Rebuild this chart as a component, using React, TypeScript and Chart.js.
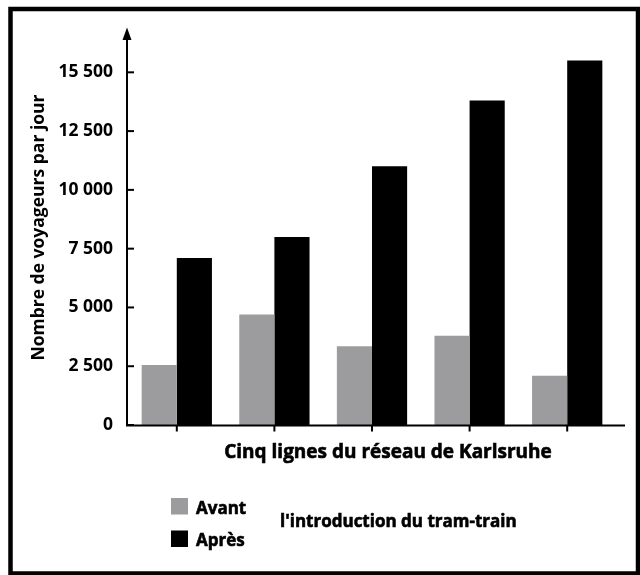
import React, { useEffect, useRef } from "react";
import { Chart, registerables } from "chart.js";

Chart.register(...registerables);

const categories = ["Ligne 1", "Ligne 2", "Ligne 3", "Ligne 4", "Ligne 5"];
const seriesNames = ["Avant", "Après"];
const avant = [2550, 4700, 3350, 3800, 2100];
const apres = [7100, 8000, 11000, 13800, 15500];
const tickValues = [0, 2500, 5000, 7500, 10000, 12500, 15000];
const tickLabels = ["0", "2 500", "5 000", "7 500", "10 000", "12 500", "15 500"];
const yTitle = "Nombre de voyageurs par jour";
const xTitle = "Cinq lignes du réseau de Karlsruhe";
const legendTitle = "l'introduction du tram-train";

const GRAY = "#9c9c9e";
const BLACK = "#000000";
const FAMILY = "'Open Sans', 'DejaVu Sans', sans-serif";

function heavyText(ctx: any, text: string, x: number, y: number) {
  ctx.fillText(text, x, y);
  ctx.lineWidth = 0.6;
  ctx.strokeStyle = BLACK;
  ctx.strokeText(text, x, y);
}

const decorPlugin = {
  id: "decor",
  beforeDraw(chart: any) {
    const ctx = chart.ctx;
    ctx.save();
    ctx.fillStyle = "#ffffff";
    ctx.fillRect(0, 0, chart.width, chart.height);
    ctx.restore();
  },
  afterDraw(chart: any) {
    const ctx = chart.ctx;
    const area = chart.chartArea;
    const xs = chart.scales.x;
    const ys = chart.scales.y;
    ctx.save();
    // outer frame
    ctx.strokeStyle = BLACK;
    ctx.lineWidth = 4.5;
    ctx.strokeRect(10.5, 9, 627.5, 564.5);

    const axisX = area.left - 1;
    const base = ys.getPixelForValue(0);
    ctx.lineWidth = 2;
    ctx.beginPath();
    ctx.moveTo(axisX, base + 1);
    ctx.lineTo(axisX, 38);
    ctx.stroke();
    // arrow
    ctx.fillStyle = BLACK;
    ctx.beginPath();
    ctx.moveTo(axisX, 27.5);
    ctx.lineTo(axisX - 4.5, 40);
    ctx.lineTo(axisX + 4.5, 40);
    ctx.closePath();
    ctx.fill();
    // x axis line
    ctx.beginPath();
    ctx.moveTo(axisX - 1, base + 0.5);
    ctx.lineTo(area.right + 9, base + 0.5);
    ctx.stroke();
    // y ticks (inside)
    tickValues.forEach((v) => {
      const y = ys.getPixelForValue(v);
      ctx.beginPath();
      ctx.moveTo(axisX, y);
      ctx.lineTo(axisX + 7, y);
      ctx.stroke();
    });
    // x ticks
    categories.forEach((_, i) => {
      const x = xs.getPixelForValue(i);
      ctx.beginPath();
      ctx.moveTo(x, base);
      ctx.lineTo(x, base + 6.5);
      ctx.stroke();
    });
    // x title
    ctx.fillStyle = BLACK;
    ctx.font = `bold 19px ${FAMILY}`;
    ctx.textAlign = "center";
    ctx.textBaseline = "alphabetic";
    heavyText(ctx, xTitle, 388, 458);

    // legend
    const colors = chart.data.datasets.map((d: any) => d.backgroundColor);
    const rows = [
      { box: 498, base: 513.5 },
      { box: 530.5, base: 545.5 },
    ];
    ctx.textAlign = "left";
    ctx.font = `bold 17px ${FAMILY}`;
    chart.data.datasets.forEach((d: any, i: number) => {
      ctx.fillStyle = colors[i];
      ctx.fillRect(171, rows[i].box, 17, 16.5);
      ctx.fillStyle = BLACK;
      heavyText(ctx, d.label, 196, rows[i].base);
    });
    ctx.font = `bold 17px ${FAMILY}`;
    heavyText(ctx, legendTitle, 280, 527);
    ctx.restore();
  },
};

export default function App() {
  const ref = useRef<HTMLCanvasElement | null>(null);
  useEffect(() => {
    if (!ref.current) return;
    const chart = new Chart(ref.current, {
      type: "bar",
      data: {
        labels: categories,
        datasets: [
          { label: seriesNames[0], data: avant, backgroundColor: GRAY, borderWidth: 0 },
          { label: seriesNames[1], data: apres, backgroundColor: BLACK, borderWidth: 0 },
        ],
      },
      options: {
        responsive: false,
        animation: false,
        devicePixelRatio: 1,
        layout: { padding: { left: 10, right: 24, top: 30, bottom: 150 } },
        datasets: { bar: { categoryPercentage: 0.72, barPercentage: 1.0 } },
        plugins: { legend: { display: false }, tooltip: { enabled: false } },
        scales: {
          x: { type: "category", display: false, offset: true },
          y: {
            type: "linear",
            min: 0,
            max: 16800,
            grid: { display: false, drawTicks: false },
            border: { display: false },
            afterBuildTicks: (scale: any) => {
              scale.ticks = tickValues.map((v) => ({ value: v }));
            },
            afterFit: (scale: any) => {
              scale.width = 118;
            },
            ticks: {
              padding: 15,
              color: BLACK,
              font: { family: FAMILY, weight: "bold", size: 17.5 },
              callback: (value: any) => {
                const i = tickValues.indexOf(Number(value));
                return i >= 0 ? tickLabels[i] : "";
              },
            },
            title: {
              display: true,
              text: yTitle,
              color: BLACK,
              font: { family: FAMILY, weight: "bold", size: 17.5 },
              padding: { top: 19, bottom: 0 },
            },
          },
        },
      },
      plugins: [decorPlugin],
    });
    return () => chart.destroy();
  }, []);
  return (
    <div style={{ position: "absolute", left: 0, top: 0, width: 640, height: 575 }}>
      <canvas ref={ref} width={640} height={575} style={{ display: "block" }} />
    </div>
  );
}
